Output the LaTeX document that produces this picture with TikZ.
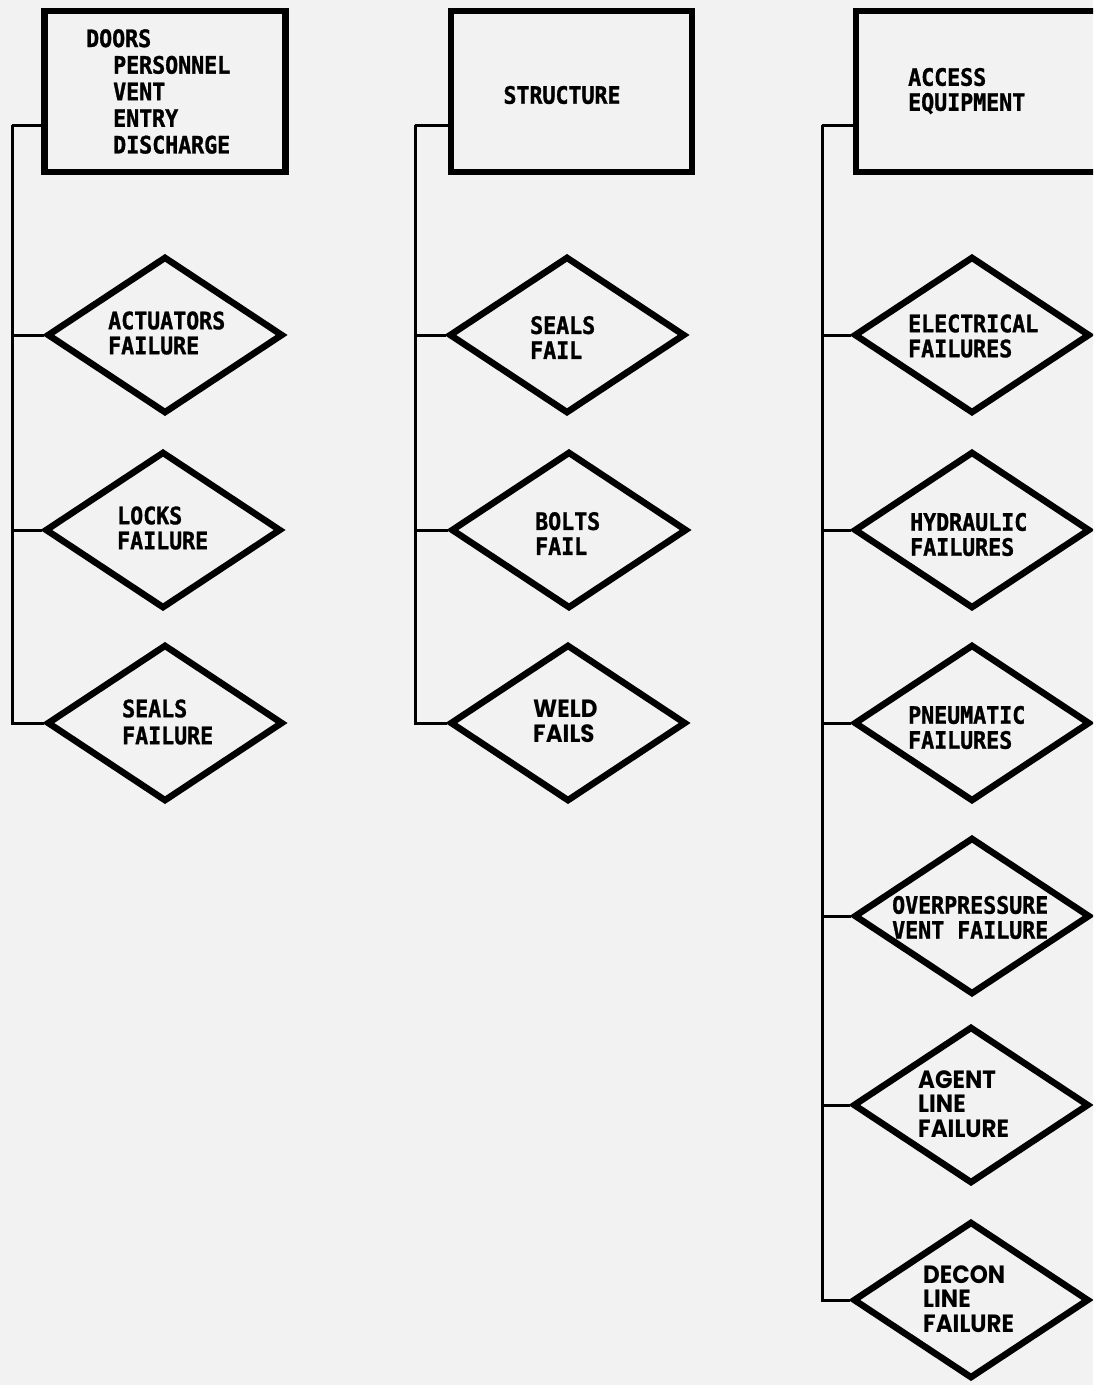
\documentclass[tikz,border=0pt]{standalone}
\usepackage{fontspec}
\usetikzlibrary{shapes.geometric,calc}
\newfontfamily\lettr{DejaVu Sans Mono}[FakeStretch=0.9,FakeBold=1.2]
\newfontfamily\geo{Poppins}[FakeStretch=0.92]
\begin{document}
\begin{tikzpicture}[x=1pt,y=-1pt,
  box/.style={draw,line width=6.5pt,rectangle,inner sep=0pt,minimum width=241pt,minimum height=161pt},
  dia/.style={draw,line width=6.5pt,diamond,inner sep=0pt,minimum width=236pt,minimum height=157pt},
  lbl/.style={anchor=west,align=left,inner sep=0pt,font=\lettr\bfseries\fontsize{24}{25}\selectfont},
  glbl/.style={anchor=west,align=left,inner sep=0pt,font=\geo\bfseries\fontsize{25}{24.5}\selectfont},
  conn/.style={line width=3pt}]
\useasboundingbox (0,0) rectangle (1093,1385);
\fill[black!5] (0,0) rectangle (1093,1385);
\clip (0,0) rectangle (1093,1385);

% ---- column 1
\node[box] (box1) at (165,91.5) {};
\node[lbl,font=\lettr\bfseries\fontsize{24}{26.6}\selectfont] (t_doors) at (86,91.5)
  {DOORS\\\hspace*{27pt}PERSONNEL\\\hspace*{27pt}VENT\\\hspace*{27pt}ENTRY\\\hspace*{27pt}DISCHARGE};
\node[dia] (d11) at (165,335) {};
\node[lbl] (t11) at (108,333) {ACTUATORS\\FAILURE};
\node[dia] (d12) at (163,530) {};
\node[lbl] (t12) at (117,528) {LOCKS\\FAILURE};
\node[dia] (d13) at (165,723) {};
\node[lbl,font=\lettr\bfseries\fontsize{24}{27}\selectfont] (t13) at (122,722) {SEALS\\FAILURE};
\coordinate (j1) at (12,125);
\draw[conn] (j1) -- (j1 -| box1.west);
\draw[conn] (j1) -- (j1 |- d13.west) -- (d13.west);
\draw[conn] (j1 |- d11.west) -- (d11.west);
\draw[conn] (j1 |- d12.west) -- (d12.west);

% ---- column 2
\node[box] (box2) at (571.5,91.5) {};
\node[lbl,anchor=center] (t_struct) at (562,95) {STRUCTURE};
\node[dia] (d21) at (567,335) {};
\node[lbl] (t21) at (530,337.5) {SEALS\\FAIL};
\node[dia] (d22) at (569,530) {};
\node[lbl] (t22) at (535,533.5) {BOLTS\\FAIL};
\node[dia] (d23) at (568,723) {};
\node[glbl] (t23) at (533,721.5) {WELD\\FAILS};
\coordinate (j2) at (415,125);
\draw[conn] (j2) -- (j2 -| box2.west);
\draw[conn] (j2) -- (j2 |- d23.west) -- (d23.west);
\draw[conn] (j2 |- d21.west) -- (d21.west);
\draw[conn] (j2 |- d22.west) -- (d22.west);

% ---- column 3
\node[box,minimum width=262pt] (box3) at (987,91.5) {};
\node[lbl] (t_access) at (908,91) {ACCESS\\EQUIPMENT};
\node[dia] (d31) at (972,335) {};
\node[lbl] (t31) at (908,336) {ELECTRICAL\\FAILURES};
\node[dia] (d32) at (972,530) {};
\node[lbl] (t32) at (910,534.5) {HYDRAULIC\\FAILURES};
\node[dia] (d33) at (972,723) {};
\node[lbl] (t33) at (908,727.5) {PNEUMATIC\\FAILURES};
\node[dia] (d34) at (972,916) {};
\node[lbl] (t34) at (892,917.5) {OVERPRESSURE\\VENT FAILURE};
\node[dia] (d35) at (971,1105) {};
\node[glbl] (t35) at (918,1104) {AGENT\\LINE\\FAILURE};
\node[dia] (d36) at (971,1300) {};
\node[glbl] (t36) at (923,1299) {DECON\\LINE\\FAILURE};
\coordinate (j3) at (822,125);
\draw[conn] (j3) -- (j3 -| box3.west);
\draw[conn] (j3) -- (j3 |- d36.west) -- (d36.west);
\draw[conn] (j3 |- d31.west) -- (d31.west);
\draw[conn] (j3 |- d32.west) -- (d32.west);
\draw[conn] (j3 |- d33.west) -- (d33.west);
\draw[conn] (j3 |- d34.west) -- (d34.west);
\draw[conn] (j3 |- d35.west) -- (d35.west);
\end{tikzpicture}
\end{document}
